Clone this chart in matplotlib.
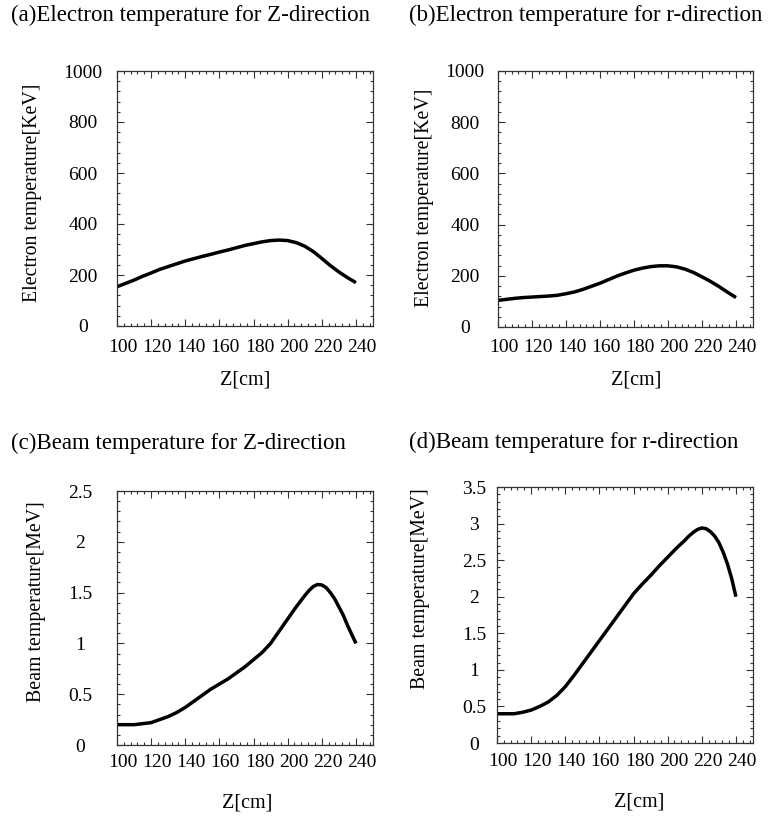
import matplotlib
matplotlib.use("Agg")
import matplotlib.pyplot as plt
from matplotlib.ticker import MultipleLocator, AutoMinorLocator
from matplotlib.transforms import ScaledTranslation

plt.rcParams['font.family'] = ['Liberation Serif', 'DejaVu Serif']
plt.rcParams['font.size'] = 14

# values (extra readings around the peaks of c and d)
z_5 = [100, 105, 110, 115, 120, 125, 130, 135, 140, 145, 150, 155, 160, 165, 170,
       175, 180, 185, 190, 195, 200, 205, 210, 215, 220, 225, 230, 235, 240]
z_fine = [100, 105, 110, 115, 120, 125, 130, 135, 140, 145, 150, 155, 160, 165, 170,
          175, 180, 185, 190, 195, 200, 205, 210, 212.5, 215, 217.5, 220, 222.5,
          225, 227.5, 230, 232.5, 235, 237.5, 240]

te_z = [154, 167, 180, 195, 208, 222, 233, 244, 255, 264, 273, 281, 290, 298, 307,
        316, 323, 330, 335, 337, 335, 327, 313, 292, 265, 237, 212, 190, 170]

te_r = [104, 108, 112, 115, 117, 119, 121, 124, 130, 137, 147, 159, 171, 185, 199,
        211, 222, 230, 236, 239, 239, 235, 226, 213, 196, 178, 158, 136, 115]

tb_z = [0.20, 0.20, 0.20, 0.21, 0.22, 0.25, 0.28, 0.32, 0.37, 0.43, 0.49, 0.55, 0.60, 0.65, 0.71,
        0.77, 0.84, 0.91, 1.00, 1.12, 1.24, 1.36, 1.47, 1.52, 1.56, 1.58, 1.575, 1.55,
        1.50, 1.44, 1.36, 1.28, 1.18, 1.09, 1.00]

tb_r = [0.40, 0.40, 0.40, 0.42, 0.45, 0.50, 0.56, 0.65, 0.77, 0.92, 1.08, 1.24, 1.40, 1.56, 1.72,
        1.88, 2.04, 2.17, 2.29, 2.42, 2.54, 2.66, 2.77, 2.83, 2.88, 2.92, 2.94, 2.93,
        2.89, 2.83, 2.74, 2.61, 2.45, 2.25, 2.00]

W, H = 768, 818
fig = plt.figure(figsize=(W / 100, H / 100), dpi=100)


def rect(l, t, r, b):
    return [l / W, 1 - b / H, (r - l) / W, (b - t) / H]


panels = [
    # x, y, box, ylim, ystep, ylabel, title, title pos, ylabel pos, xlabel pos, ypad, xpad
    (z_5, te_z, (117, 71, 373, 326), (0, 1000), 200, 'Electron temperature[KeV]',
     '(a)Electron temperature for Z-direction', (11, 15), (33, 193), (245, 380), 24.5, 9.4),
    (z_5, te_r, (498, 71, 753, 327), (0, 1000), 200, 'Electron temperature[KeV]',
     '(b)Electron temperature for r-direction', (409, 15), (425, 198), (636, 380), 23.8, 8.8),
    (z_fine, tb_z, (117, 491, 373, 745), (0, 2.5), 0.5, 'Beam temperature[MeV]',
     '(c)Beam temperature for Z-direction', (11, 443), (37, 602), (247, 803), 26.6, 6.6),
    (z_fine, tb_r, (497, 487, 753, 743), (0, 3.5), 0.5, 'Beam temperature[MeV]',
     '(d)Beam temperature for r-direction', (409, 442), (421, 589), (639, 802), 16.3, 7.3),
]

for xs, vals, box, ylim, ystep, ylab, title, tpos, ylpos, xlpos, ypad, xpad in panels:
    ax = fig.add_axes(rect(*box))
    ax.plot(xs, vals, color='black', lw=2.5, solid_joinstyle='round', solid_capstyle='butt')
    ax.set_xlim(100, 250)
    ax.set_ylim(*ylim)
    ax.set_xticks(range(100, 241, 20))
    ax.xaxis.set_minor_locator(MultipleLocator(4))
    ax.yaxis.set_major_locator(MultipleLocator(ystep))
    ax.yaxis.set_minor_locator(AutoMinorLocator(5))
    ax.tick_params(which='both', direction='in', top=True, right=True, width=0.8, color='#333333')
    ax.tick_params(which='major', length=5)
    ax.tick_params(which='minor', length=2.5)
    ax.tick_params(axis='y', pad=ypad)
    ax.tick_params(axis='x', pad=xpad)
    for s in ax.spines.values():
        s.set_linewidth(0.9)
        s.set_color('#333333')

    ax.yaxis.set_major_formatter(plt.FuncFormatter(lambda v, p: f'{v:g}'))
    for lab in ax.get_yticklabels():
        lab.set_horizontalalignment('center')
    shift = ScaledTranslation(6 / 100, 0, fig.dpi_scale_trans)
    for lab in ax.get_xticklabels():
        lab.set_transform(lab.get_transform() + shift)

    fig.text(tpos[0] / W, 1 - tpos[1] / H, title, ha='left', va='center', fontsize=16.5)
    fig.text(ylpos[0] / W, 1 - ylpos[1] / H, ylab, ha='center', va='center', rotation=90,
             fontsize=14.3)
    fig.text(xlpos[0] / W, 1 - xlpos[1] / H, 'Z[cm]', ha='center', va='center', fontsize=14.5)

fig.savefig('out.png', dpi=100)
